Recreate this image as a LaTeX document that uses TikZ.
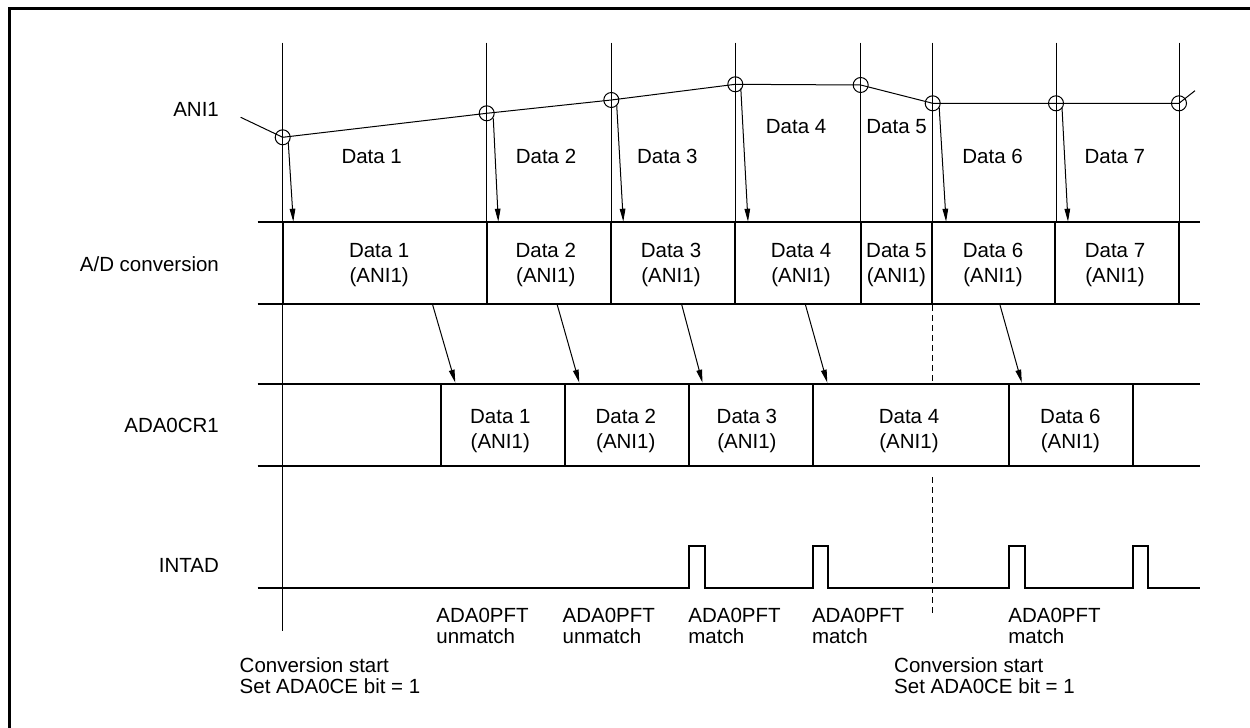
\documentclass[tikz,border=0pt]{standalone}
\usepackage{fontspec}
\setmainfont{Liberation Sans}
\usetikzlibrary{arrows.meta,calc}

\begin{document}
\begin{tikzpicture}[x=0.5pt,y=-0.5pt,>={Triangle[length=6.5pt,width=2.8pt]},
    guide/.style={line width=0.5pt},
    rowline/.style={line width=1pt},
    lbl/.style={font=\fontsize{10.25}{12.5}\selectfont, inner sep=0pt},
    cell/.style={lbl, align=center},
    note/.style={font=\fontsize{10.25}{10.8}\selectfont, inner sep=0pt, align=left, anchor=north west}]
  \useasboundingbox (0,0) rectangle (1250,728);
  % frame (top and left edges only)
  \draw[line width=1.4pt] (1250,8.2) -- (9.3,8.2) -- (9.3,728);

  % signal names
  \node[lbl, anchor=base east] (ani) at (219.3,116.7) {ANI1};
  \node[lbl, anchor=base east] (adc) at (219.3,271.7) {A/D conversion};
  \node[lbl, anchor=base east] (reg) at (219.3,432.3) {ADA0CR1};
  \node[lbl, anchor=base east] (intad) at (219.3,572.3) {INTAD};

  % sampling points
  \foreach \n/\x/\y in {1/282.7/137.3, 2/486.7/113.3, 3/611.3/100, 4/735.3/84.3,
                        5/860.7/85, 6/932.7/103.3, 7/1056/103.3, 8/1179/103.3}
    \coordinate (s\n) at (\x,\y);
  \foreach \x in {486.7,611.3,735.3,860.7,932.7,1056,1179}
    \draw[guide] (\x,42.7) -- (\x,222.3);
  \draw[guide] (282.7,42.7) -- (282.7,631);
  \draw[guide, dash pattern=on 3pt off 2pt] (932.5,305) -- (932.5,383.7);
  \draw[guide, dash pattern=on 3pt off 2pt] (932.5,477) -- (932.5,616);

  % analog input
  \draw[guide] (240.7,117.3) -- (s1) -- (s2) -- (s3) -- (s4) -- (s5) -- (s6) -- (s7) -- (s8) -- (1195,90.7);
  \foreach \n in {1,...,8}
    \draw[guide] (s\n) circle[radius=3.75pt];
  \foreach \n/\t/\x/\y in {1/Data 1/371.7/156.7, 2/Data 2/546/156.7, 3/Data 3/667.3/156.7,
                           4/Data 4/796.1/126.7, 5/Data 5/896.6/126.7, 6/Data 6/992.6/156.7,
                           7/Data 7/1114.8/156.7}
    \node[lbl] (in\n) at (\x,\y) {\t};

  % sampling arrows
  \draw[guide,->] (288.3,142.7) -- (293.3,221.7);
  \draw[guide,->] (493.3,118.3) -- (498.3,221.7);
  \draw[guide,->] (616.7,105) -- (623.3,221.7);
  \draw[guide,->] (740.8,88.3) -- (748,221.7);
  \draw[guide,->] (939.2,107.3) -- (946.1,221.7);
  \draw[guide,->] (1062,107.3) -- (1068,221.7);

  % A/D conversion row
  \draw[rowline] (257.7,222.3) -- (1200,222.3);
  \draw[rowline] (257.7,303.7) -- (1200,303.7);
  \foreach \x in {282.7,486.7,611.3,735.3,860.7,932.3,1055.3,1179}
    \draw[rowline] (\x,222.3) -- (\x,303.7);
  \foreach \n/\x in {1/379.2, 2/545.8, 3/671, 4/801, 5/896.4, 6/993, 7/1115}
    \node[cell] (ad\n) at (\x,265.3) {Data \n\\(ANI1)};

  % transfer arrows
  \draw[guide,->] (432.7,305) -- (455.3,382.7);
  \draw[guide,->] (557.3,305) -- (579.3,382.7);
  \draw[guide,->] (681.8,305) -- (702.5,382.7);
  \draw[guide,->] (805.5,305) -- (827.3,382.7);
  \draw[guide,->] (1000,305) -- (1021.8,382.7);

  % ADA0CR1 row
  \draw[rowline] (257.7,383.7) -- (1200,383.7);
  \draw[rowline] (257.7,465.7) -- (1200,465.7);
  \foreach \x in {441,565,689,812.7,1009,1132.7}
    \draw[rowline] (\x,383.7) -- (\x,465.7);
  \foreach \n/\x in {1/500.3, 2/625.8, 3/746.9, 4/909, 6/1070.4}
    \node[cell] (cr\n) at (\x,431.3) {Data \n\\(ANI1)};

  % INTAD
  \draw[rowline] (257.7,588) -- (689,588) -- (689,546) -- (704.7,546) -- (704.7,588)
    -- (812.7,588) -- (812.7,546) -- (828.3,546) -- (828.3,588)
    -- (1009,588) -- (1009,546) -- (1024.7,546) -- (1024.7,588)
    -- (1132.7,588) -- (1132.7,546) -- (1148.3,546) -- (1148.3,588) -- (1200,588);

  % notes
  \node[note] (m1) at (436,607.3) {ADA0PFT\\unmatch};
  \node[note] (m2) at (562.3,607.3) {ADA0PFT\\unmatch};
  \node[note] (m3) at (688,607.3) {ADA0PFT\\match};
  \node[note] (m4) at (811.6,607.3) {ADA0PFT\\match};
  \node[note] (m5) at (1008,607.3) {ADA0PFT\\match};
  \node[note] (st1) at (239.3,657) {Conversion start\\Set ADA0CE bit = 1};
  \node[note] (st2) at (893.8,657) {Conversion start\\Set ADA0CE bit = 1};
\end{tikzpicture}
\end{document}
